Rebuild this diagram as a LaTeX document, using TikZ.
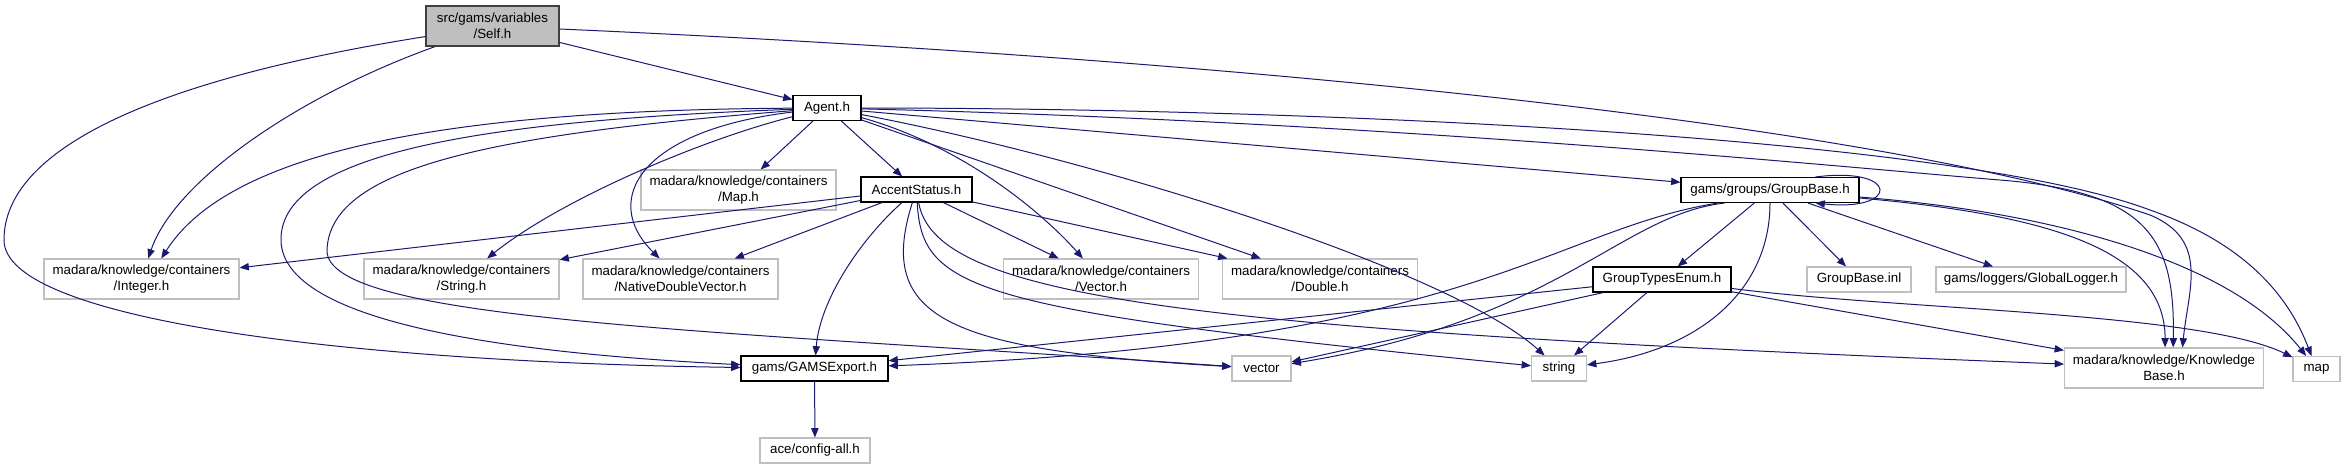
\documentclass[tikz,border=0pt]{standalone}
\usepackage{fontspec}
\setmainfont{Liberation Sans}
\usepackage{tikz}
\usetikzlibrary{arrows.meta}
\definecolor{edgeblue}{HTML}{191970}
\definecolor{sysgray}{HTML}{BFBFBF}
\definecolor{curfill}{HTML}{BFBFBF}
\definecolor{curline}{HTML}{404040}

\begin{document}
\begin{tikzpicture}[
  x=0.75pt, y=-0.75pt,
  hdr/.style={rectangle, draw=black, fill=white, line width=0.8pt, align=center,
              font=\fontsize{10}{11.8}\selectfont, inner xsep=2pt, inner ysep=0pt,
              minimum height=18.75pt},
  two/.style={minimum height=30pt},
  sysbox/.style={hdr, draw=sysgray},
  curbox/.style={hdr, draw=curline, fill=curfill},
  inc/.style={draw=edgeblue, line width=0.75pt, -{Triangle[length=7pt,width=5.5pt]}}
]
  \useasboundingbox (0,0) rectangle (2345,469);

  % ── TOP ──
  \node[curbox, two, minimum width=99.75pt] (self) at (492.5,26) {src/gams/variables\\/Self.h};
  \node[hdr, minimum width=51pt] (agent) at (827,108) {Agent.h};

  % ── MIDDLE ROW ──
  \node[sysbox, two, minimum width=146.25pt] (map_h) at (738.5,190) {madara/knowledge/containers\\/Map.h};
  \node[hdr, minimum width=83.25pt] (accent) at (916.5,189.5) {AccentStatus.h};
  \node[hdr, minimum width=133.5pt] (gb) at (1770,190) {gams/groups/GroupBase.h};

  % ── CONTAINERS ──
  \node[sysbox, two, minimum width=146.25pt] (integer) at (141.5,279) {madara/knowledge/containers\\/Integer.h};
  \node[sysbox, two, minimum width=146.25pt] (stringh) at (461.5,279) {madara/knowledge/containers\\/String.h};
  \node[sysbox, two, minimum width=146.25pt] (ndv) at (680.5,279) {madara/knowledge/containers\\/NativeDoubleVector.h};
  \node[sysbox, two, minimum width=146.25pt] (vectorh) at (1101,279) {madara/knowledge/containers\\/Vector.h};
  \node[sysbox, two, minimum width=146.25pt] (doubleh) at (1320,279) {madara/knowledge/containers\\/Double.h};
  \node[hdr, minimum width=103.5pt] (gte) at (1662,279.5) {GroupTypesEnum.h};
  \node[sysbox, minimum width=78pt] (gbinl) at (1859,279.5) {GroupBase.inl};
  \node[sysbox, minimum width=142.5pt] (logger) at (2031,279.5) {gams/loggers/GlobalLogger.h};

  % ── BOTTOM ROWS ──
  \node[hdr, minimum width=110.25pt] (gams) at (814.5,368.5) {gams/GAMSExport.h};
  \node[sysbox, minimum width=44.25pt] (vec) at (1261.5,368.5) {vector};
  \node[sysbox, minimum width=41.25pt] (str) at (1559,368.5) {string};
  \node[sysbox, two, minimum width=149.25pt] (kb) at (2164,368) {madara/knowledge/Knowledge\\Base.h};
  \node[sysbox, minimum width=35.25pt] (map) at (2316.5,369) {map};
  \node[sysbox, minimum width=82.5pt] (ace) at (815,450.5) {ace/config-all.h};

  % ── Self.h ──
  \draw[inc] (self) -- (agent);
  \draw[inc] (self) .. controls (300,95) and (175,180) .. (integer.72);
  \draw[inc] (self) .. controls (150,80) and (4,150) .. (4,240)
                    .. controls (4,320) and (350,362) .. (gams);
  \draw[inc] (self) .. controls (1300,62) and (1900,130) .. (2150,215)
                    .. controls (2210,240) and (2188,290) .. (kb.48);

  % ── Agent.h ──
  \draw[inc] (agent) .. controls (450,110) and (230,150) .. (integer.46);
  \draw[inc] (agent) .. controls (500,120) and (280,150) .. (281,240)
                     .. controls (282,330) and (550,355) .. (gams);
  \draw[inc] (agent) .. controls (480,135) and (330,170) .. (327,250)
                     .. controls (325,320) and (700,330) .. (vec);
  \draw[inc] (agent) .. controls (700,140) and (560,200) .. (stringh);
  \draw[inc] (agent) .. controls (640,130) and (600,200) .. (ndv);
  \draw[inc] (agent) -- (map_h);
  \draw[inc] (agent) -- (accent);
  \draw[inc] (agent) .. controls (960,145) and (1040,210) .. (vectorh);
  \draw[inc] (agent) -- (doubleh);
  \draw[inc] (agent) .. controls (1100,160) and (1450,270) .. (str);
  \draw[inc] (agent) -- (gb);
  \draw[inc] (agent) .. controls (1400,122) and (1850,168) .. (2000,180)
                     .. controls (2150,192) and (2175,240) .. (kb.66);
  \draw[inc] (agent) .. controls (1300,108) and (1950,135) .. (2150,210)
                     .. controls (2250,245) and (2290,300) .. (map);

  % ── AccentStatus.h ──
  \draw[inc] (accent) -- (integer);
  \draw[inc] (accent) -- (stringh);
  \draw[inc] (accent) -- (ndv);
  \draw[inc] (accent) .. controls (860,240) and (820,300) .. (gams);
  \draw[inc] (accent) .. controls (875,320) and (950,350) .. (vec);
  \draw[inc] (accent) -- (vectorh);
  \draw[inc] (accent) -- (doubleh);
  \draw[inc] (accent) .. controls (922,290) and (970,310) .. (str);
  \draw[inc] (accent) .. controls (935,300) and (1200,330) .. (kb);

  % ── GroupBase.h ──
  \draw[inc] (gb.16) .. controls (1900,166) and (1900,212) .. (gb.-16);
  \draw[inc] (gb) -- (gte);
  \draw[inc] (gb) -- (gbinl);
  \draw[inc] (gb) -- (logger);
  \draw[inc] (gb) .. controls (1770,290) and (1700,350) .. (str);
  \draw[inc] (gb.196) .. controls (1620,215) and (1560,320) .. (vec);
  \draw[inc] (gb.194) .. controls (1550,230) and (1470,345) .. (gams);
  \draw[inc] (gb) .. controls (2050,215) and (2165,250) .. (kb.87);
  \draw[inc] (gb) .. controls (2050,212) and (2230,260) .. (map);

  % ── GroupTypesEnum.h ──
  \draw[inc] (gte) -- (gams);
  \draw[inc] (gte) -- (vec);
  \draw[inc] (gte) -- (str);
  \draw[inc] (gte) -- (kb);
  \draw[inc] (gte) .. controls (1900,310) and (2200,312) .. (map);

  % ── GAMSExport.h ──
  \draw[inc] (gams) -- (ace);
\end{tikzpicture}
\end{document}
